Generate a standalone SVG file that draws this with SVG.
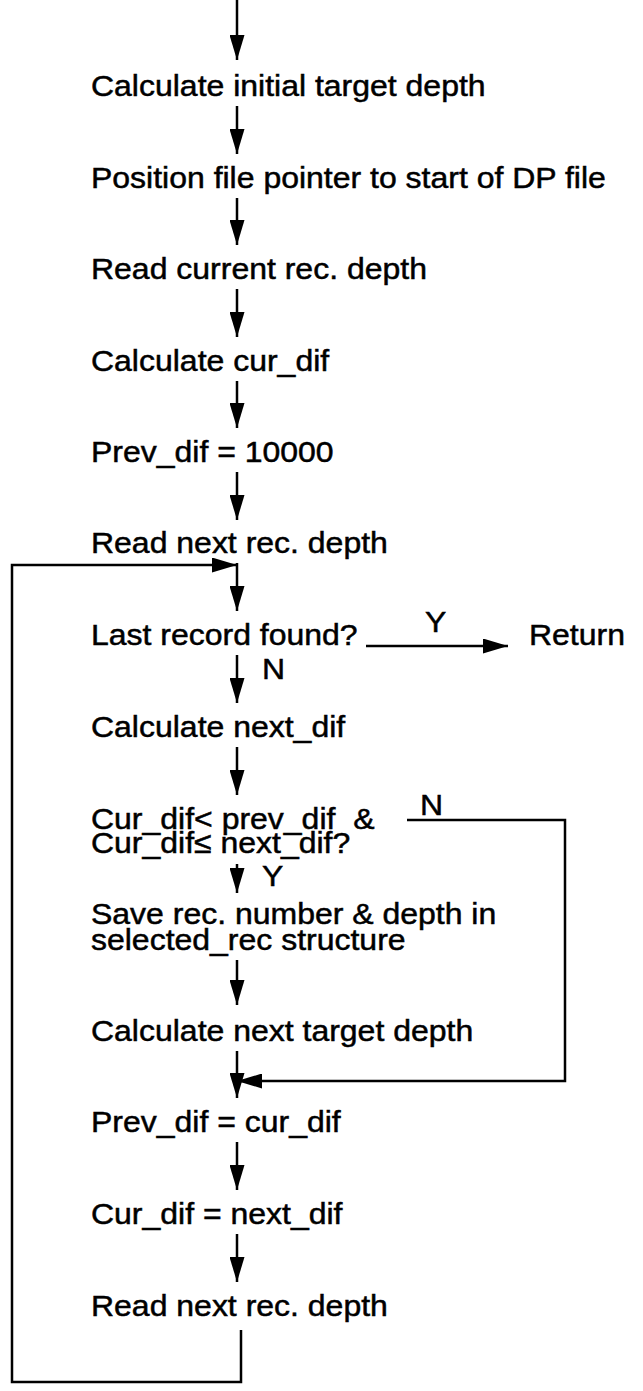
<svg xmlns="http://www.w3.org/2000/svg" width="643" height="1391" viewBox="0 0 643 1391">
<defs>
<marker id="ah" markerWidth="25" markerHeight="15" refX="25" refY="7.5" orient="auto" markerUnits="userSpaceOnUse" viewBox="0 0 25 15">
<path d="M0,0 L25,7.5 L0,15 Z" fill="#000"/>
</marker>
<style>
text{font-family:"Liberation Sans",Arial,sans-serif;font-size:30px;fill:#000;stroke:#000;stroke-width:0.5;white-space:pre}
.c line,.c polyline{stroke:#000;stroke-width:2.5;fill:none}
</style>
</defs>
<rect width="643" height="1391" fill="#fff"/>
<g class="c" id="connectors">
<line x1="237" y1="0" x2="237" y2="60" marker-end="url(#ah)"/>
<line x1="237" y1="106" x2="237" y2="154" marker-end="url(#ah)"/>
<line x1="237" y1="198" x2="237" y2="245" marker-end="url(#ah)"/>
<line x1="237" y1="289" x2="237" y2="337" marker-end="url(#ah)"/>
<line x1="237" y1="381" x2="237" y2="428" marker-end="url(#ah)"/>
<line x1="237" y1="472" x2="237" y2="520" marker-end="url(#ah)"/>
<line x1="237" y1="563" x2="237" y2="611" marker-end="url(#ah)"/>
<line x1="366" y1="646" x2="508" y2="646" marker-end="url(#ah)"/>
<line x1="237" y1="655" x2="237" y2="703" marker-end="url(#ah)"/>
<line x1="237" y1="747" x2="237" y2="795" marker-end="url(#ah)"/>
<line x1="237" y1="864" x2="237" y2="893" marker-end="url(#ah)"/>
<line x1="237" y1="960" x2="237" y2="1005" marker-end="url(#ah)"/>
<line x1="237" y1="1051" x2="237" y2="1098" marker-end="url(#ah)"/>
<line x1="237" y1="1142" x2="237" y2="1190" marker-end="url(#ah)"/>
<line x1="237" y1="1234" x2="237" y2="1282" marker-end="url(#ah)"/>
<polyline points="407,820 565,820 565,1081 237,1081" marker-end="url(#ah)"/>
<polyline points="241,1330 241,1382 12,1382 12,565 237,565" marker-end="url(#ah)"/>
</g>
<g id="n1"><text transform="matrix(1.066 0 0 1 91 96)">Calculate initial target depth</text></g>
<g id="n2"><text transform="matrix(1.066 0 0 1 91 188)">Position file pointer to start of DP file</text></g>
<g id="n3"><text transform="matrix(1.066 0 0 1 91 279)">Read current rec. depth</text></g>
<g id="n4"><text transform="matrix(1.066 0 0 1 91 371)">Calculate cur_dif</text></g>
<g id="n5"><text transform="matrix(1.066 0 0 1 91 462)">Prev_dif = 10000</text></g>
<g id="n6"><text transform="matrix(1.066 0 0 1 91 553)">Read next rec. depth</text></g>
<g id="n7"><text transform="matrix(1.066 0 0 1 91 645)">Last record found?</text></g>
<g id="n8"><text transform="matrix(1.066 0 0 1 529 645)">Return</text></g>
<g id="lblY1"><text transform="matrix(1.066 0 0 1 425 632)">Y</text></g>
<g id="lblN1"><text transform="matrix(1.066 0 0 1 262 679)">N</text></g>
<g id="n9"><text transform="matrix(1.066 0 0 1 91 737)">Calculate next_dif</text></g>
<g id="n10"><text transform="matrix(1.066 0 0 1 91 829)">Cur_dif&lt; prev_dif  &amp;</text><text transform="matrix(1.066 0 0 1 91 853)">Cur_dif≤ next_dif?</text></g>
<g id="lblN2"><text transform="matrix(1.066 0 0 1 420 815)">N</text></g>
<g id="lblY2"><text transform="matrix(1.066 0 0 1 262 886)">Y</text></g>
<g id="n11"><text transform="matrix(1.066 0 0 1 91 924)">Save rec. number &amp; depth in</text><text transform="matrix(1.066 0 0 1 91 950)">selected_rec structure</text></g>
<g id="n12"><text transform="matrix(1.066 0 0 1 91 1041)">Calculate next target depth</text></g>
<g id="n13"><text transform="matrix(1.066 0 0 1 91 1132)">Prev_dif = cur_dif</text></g>
<g id="n14"><text transform="matrix(1.066 0 0 1 91 1224)">Cur_dif = next_dif</text></g>
<g id="n15"><text transform="matrix(1.066 0 0 1 91 1316)">Read next rec. depth</text></g>
</svg>
